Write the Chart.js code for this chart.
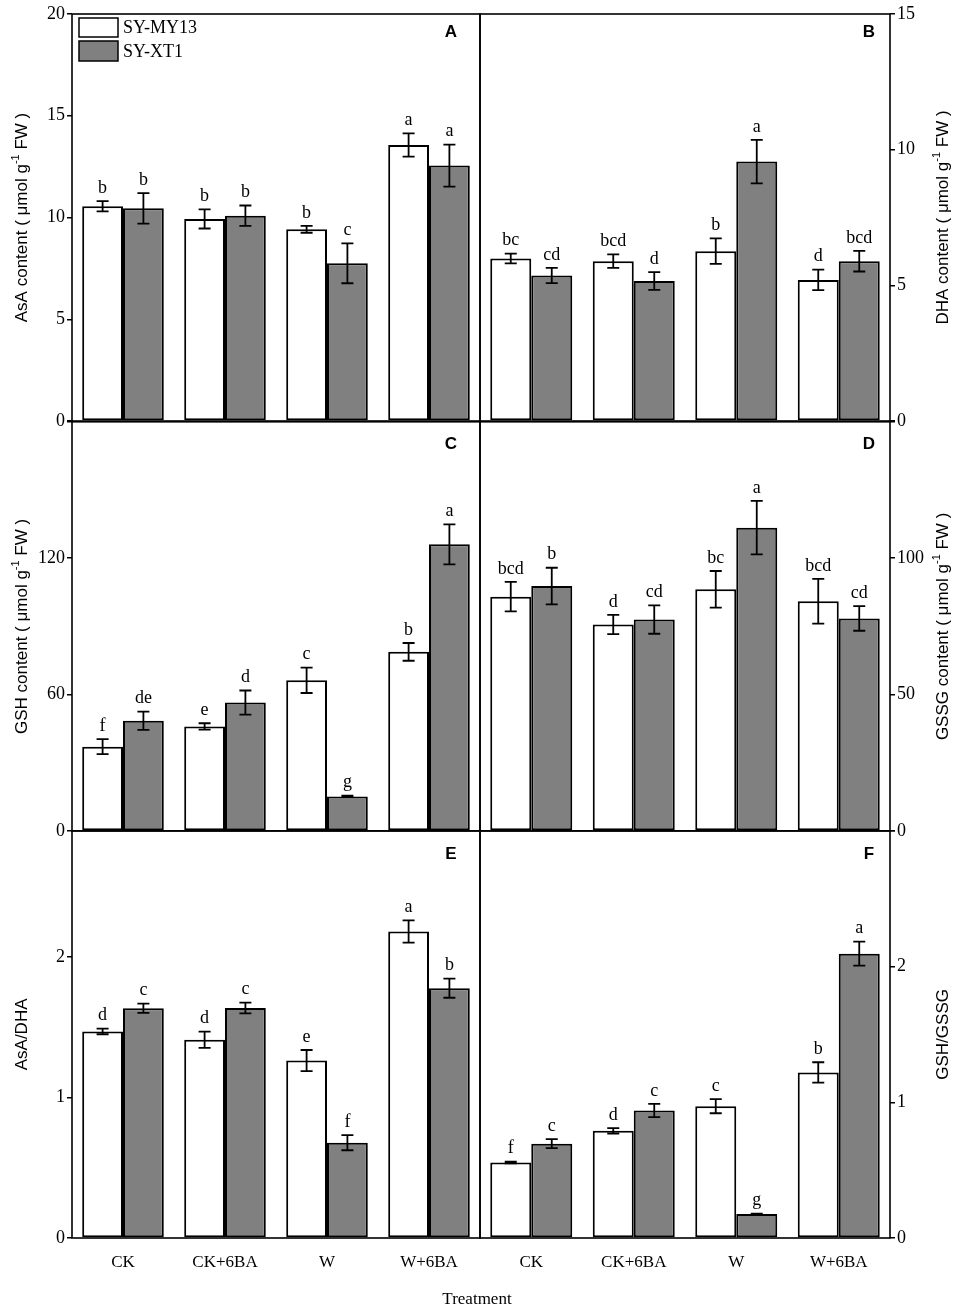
<!DOCTYPE html>
<html>
<head>
<meta charset="utf-8">
<script src="https://cdn.jsdelivr.net/npm/chart.js@4.4.1/dist/chart.umd.min.js"></script>
<style>
  html, body { margin: 0; padding: 0; background: #fff; }
  #wrap { position: relative; width: 957px; height: 1312px; overflow: hidden; }
  canvas { position: absolute; left: 0; }
</style>
</head>
<body>
<div id="wrap">
  <canvas id="cA" width="957" height="440" style="top:0px"></canvas>
  <canvas id="cB" width="957" height="440" style="top:0px"></canvas>
  <canvas id="cC" width="957" height="440" style="top:409px"></canvas>
  <canvas id="cD" width="957" height="440" style="top:409px"></canvas>
  <canvas id="cE" width="957" height="494" style="top:818px"></canvas>
  <canvas id="cF" width="957" height="494" style="top:818px"></canvas>
</div>
<script>
const categories = ['CK', 'CK+6BA', 'W', 'W+6BA'];
const seriesNames = ['SY-MY13', 'SY-XT1'];

// A - AsA content
const asaMY = [10.55, 9.93, 9.42, 13.56];
const asaXT = [10.45, 10.09, 7.75, 12.55];
const asaMYErr = [0.25, 0.47, 0.17, 0.57];
const asaXTErr = [0.75, 0.5, 0.98, 1.03];
const asaMYSig = ['b', 'b', 'b', 'a'];
const asaXTSig = ['b', 'b', 'c', 'a'];

// B - DHA content
const dhaMY = [5.99, 5.89, 6.26, 5.2];
const dhaXT = [5.36, 5.16, 9.56, 5.89];
const dhaMYErr = [0.18, 0.25, 0.47, 0.38];
const dhaXTErr = [0.28, 0.33, 0.8, 0.38];
const dhaMYSig = ['bc', 'bcd', 'b', 'd'];
const dhaXTSig = ['cd', 'd', 'a', 'bcd'];

// C - GSH content
const gshMY = [37.1, 46.0, 66.3, 78.8];
const gshXT = [48.5, 56.5, 15.2, 126.1];
const gshMYErr = [3.3, 1.4, 5.6, 3.9];
const gshXTErr = [4.0, 5.3, 0.3, 8.8];
const gshMYSig = ['f', 'e', 'c', 'b'];
const gshXTSig = ['de', 'd', 'g', 'a'];

// D - GSSG content
const gssgMY = [85.9, 75.7, 88.6, 84.2];
const gssgXT = [89.8, 77.5, 111.2, 77.9];
const gssgMYErr = [5.4, 3.5, 6.7, 8.2];
const gssgXTErr = [6.7, 5.2, 9.8, 4.5];
const gssgMYSig = ['bcd', 'd', 'bc', 'bcd'];
const gssgXTSig = ['b', 'cd', 'a', 'cd'];

// E - AsA/DHA
const asaDhaMY = [1.471, 1.412, 1.264, 2.183];
const asaDhaXT = [1.636, 1.638, 0.679, 1.779];
const asaDhaMYErr = [0.02, 0.058, 0.075, 0.079];
const asaDhaXTErr = [0.033, 0.038, 0.054, 0.068];
const asaDhaMYSig = ['d', 'd', 'e', 'a'];
const asaDhaXTSig = ['c', 'c', 'f', 'b'];

// F - GSH/GSSG
const gshGssgMY = [0.556, 0.79, 0.971, 1.22];
const gshGssgXT = [0.695, 0.939, 0.176, 2.095];
const gshGssgMYErr = [0.006, 0.02, 0.052, 0.075];
const gshGssgXTErr = [0.033, 0.049, 0.004, 0.088];
const gshGssgMYSig = ['f', 'd', 'c', 'b'];
const gshGssgXTSig = ['c', 'c', 'g', 'a'];

const SERIF = '"Liberation Serif", "Times New Roman", serif';
const SANS = '"Liberation Sans", Arial, sans-serif';

// draws frame, error bars, letters, axis title, panel letter, legend
const panelPlugin = {
  id: 'panel',
  afterDatasetsDraw(chart, args, opts) {
    const ctx = chart.ctx;
    const area = chart.chartArea;
    const yScale = chart.scales.y;

    ctx.save();
    // error bars + significance letters
    chart.data.datasets.forEach((ds, di) => {
      const meta = chart.getDatasetMeta(di);
      meta.data.forEach((bar, i) => {
        const v = ds.data[i], e = ds.err[i];
        const yTop = yScale.getPixelForValue(v + e);
        const yBot = yScale.getPixelForValue(v - e);
        ctx.strokeStyle = '#000';
        ctx.lineWidth = 1.8;
        ctx.beginPath();
        ctx.moveTo(bar.x, yTop); ctx.lineTo(bar.x, yBot);
        ctx.moveTo(bar.x - 6, yTop); ctx.lineTo(bar.x + 6, yTop);
        ctx.moveTo(bar.x - 6, yBot); ctx.lineTo(bar.x + 6, yBot);
        ctx.stroke();
        ctx.fillStyle = '#000';
        ctx.font = '18px ' + SERIF;
        ctx.textAlign = 'center';
        ctx.textBaseline = 'bottom';
        ctx.fillText(ds.sig[i], bar.x, yTop - 4);
      });
    });

    // frame
    ctx.strokeStyle = '#000';
    ctx.lineWidth = 1.6;
    ctx.strokeRect(area.left, area.top, area.right - area.left, area.bottom - area.top);

    // panel letter
    ctx.font = 'bold 17px ' + SANS;
    ctx.textAlign = 'center';
    ctx.textBaseline = 'middle';
    ctx.fillText(opts.letter, area.right - opts.letterDx, area.top + opts.letterDy);

    // rotated axis title with optional superscript
    const yMid = (area.top + area.bottom) / 2;
    ctx.translate(opts.titleX, yMid);
    ctx.rotate(-Math.PI / 2);
    const mainFont = '17px ' + SANS, supFont = '11px ' + SANS;
    let total = 0;
    opts.title.forEach(p => {
      ctx.font = p.sup ? supFont : mainFont;
      total += ctx.measureText(p.t).width;
    });
    let x = -total / 2;
    ctx.textAlign = 'left';
    ctx.textBaseline = 'middle';
    opts.title.forEach(p => {
      ctx.font = p.sup ? supFont : mainFont;
      ctx.fillText(p.t, x, p.sup ? -6 : 0);
      x += ctx.measureText(p.t).width;
    });
    ctx.restore();

    // legend (panel A only)
    if (opts.legend) {
      ctx.save();
      const bx = area.left + 7;
      const rows = [{y: area.top + 4, h: 19, fill: '#ffffff'}, {y: area.top + 27, h: 20, fill: '#808080'}];
      rows.forEach((r, k) => {
        ctx.fillStyle = r.fill;
        ctx.fillRect(bx, r.y, 39, r.h);
        ctx.strokeStyle = '#000';
        ctx.lineWidth = 1.5;
        ctx.strokeRect(bx, r.y, 39, r.h);
        ctx.fillStyle = '#000';
        ctx.font = '18px ' + SERIF;
        ctx.textAlign = 'left';
        ctx.textBaseline = 'middle';
        ctx.fillText(chart.data.datasets[k].label, bx + 44, r.y + r.h / 2 + 1);
      });
      ctx.restore();
    }

    // shared x-axis title
    if (opts.treatment) {
      ctx.save();
      ctx.fillStyle = '#000';
      ctx.font = '17px ' + SERIF;
      ctx.textAlign = 'center';
      ctx.textBaseline = 'middle';
      ctx.fillText('Treatment', 477, 482);
      ctx.restore();
    }
  }
};

function makePanel(id, cfg) {
  const left = cfg.side === 'left';
  new Chart(document.getElementById(id), {
    type: 'bar',
    data: {
      labels: categories,
      datasets: [
        { label: seriesNames[0], data: cfg.my, err: cfg.myErr, sig: cfg.mySig,
          backgroundColor: '#ffffff', borderColor: '#000', borderWidth: 2, borderSkipped: false },
        { label: seriesNames[1], data: cfg.xt, err: cfg.xtErr, sig: cfg.xtSig,
          backgroundColor: '#808080', borderColor: '#000', borderWidth: 2, borderSkipped: false }
      ]
    },
    options: {
      responsive: false,
      animation: false,
      events: [],
      layout: { padding: { left: left ? 0 : 480, right: left ? 477 : 0, top: cfg.padTop, bottom: cfg.padBottom } },
      datasets: { bar: { categoryPercentage: 0.8, barPercentage: 1 } },
      scales: {
        x: {
          display: cfg.showX,
          grid: { display: false, drawTicks: false },
          border: { display: false },
          ticks: { color: '#000', font: { family: SERIF, size: 17 }, padding: 14, maxRotation: 0 },
          afterFit: s => { s.height = cfg.showX ? 74 : 0; }
        },
        y: {
          position: left ? 'left' : 'right',
          min: 0,
          max: cfg.max,
          grid: { drawOnChartArea: false, drawTicks: true, tickLength: 5, color: '#000', lineWidth: 1.5 },
          border: { display: false },
          ticks: {
            stepSize: cfg.step,
            includeBounds: false,
            color: '#000',
            font: { family: SERIF, size: 18 },
            padding: 2,
            callback: v => (cfg.hideTop && v === cfg.max) ? '' : v
          },
          afterFit: s => { s.width = left ? 72 : 67; }
        }
      },
      plugins: {
        legend: { display: false },
        tooltip: { enabled: false },
        panel: {
          letter: cfg.letter,
          letterDx: left ? 29 : 21,
          letterDy: cfg.letterDy,
          titleX: left ? 22 : 943,
          title: cfg.title,
          legend: !!cfg.legend,
          treatment: !!cfg.treatment
        }
      }
    },
    plugins: [panelPlugin]
  });
}

const contentTitle = name => [
  { t: name + ' content ( \u03bcmol g' }, { t: '-1', sup: true }, { t: ' FW )' }
];

makePanel('cA', { side: 'left', letter: 'A', letterDy: 18, max: 20, step: 5, padTop: 14, padBottom: 19, showX: false,
  my: asaMY, xt: asaXT, myErr: asaMYErr, xtErr: asaXTErr, mySig: asaMYSig, xtSig: asaXTSig,
  title: contentTitle('AsA'), legend: true });
makePanel('cB', { side: 'right', letter: 'B', letterDy: 18, max: 15, step: 5, padTop: 14, padBottom: 19, showX: false,
  my: dhaMY, xt: dhaXT, myErr: dhaMYErr, xtErr: dhaXTErr, mySig: dhaMYSig, xtSig: dhaXTSig,
  title: contentTitle('DHA') });
makePanel('cC', { side: 'left', letter: 'C', letterDy: 23, max: 180, step: 60, hideTop: true, padTop: 12, padBottom: 18, showX: false,
  my: gshMY, xt: gshXT, myErr: gshMYErr, xtErr: gshXTErr, mySig: gshMYSig, xtSig: gshXTSig,
  title: contentTitle('GSH') });
makePanel('cD', { side: 'right', letter: 'D', letterDy: 23, max: 150, step: 50, hideTop: true, padTop: 12, padBottom: 18, showX: false,
  my: gssgMY, xt: gssgXT, myErr: gssgMYErr, xtErr: gssgXTErr, mySig: gssgMYSig, xtSig: gssgXTSig,
  title: contentTitle('GSSG') });
makePanel('cE', { side: 'left', letter: 'E', letterDy: 24, max: 2.9, step: 1, hideTop: true, padTop: 12, padBottom: 0, showX: true,
  my: asaDhaMY, xt: asaDhaXT, myErr: asaDhaMYErr, xtErr: asaDhaXTErr, mySig: asaDhaMYSig, xtSig: asaDhaXTSig,
  title: [{ t: 'AsA/DHA' }], treatment: true });
makePanel('cF', { side: 'right', letter: 'F', letterDy: 24, max: 3, step: 1, hideTop: true, padTop: 12, padBottom: 0, showX: true,
  my: gshGssgMY, xt: gshGssgXT, myErr: gshGssgMYErr, xtErr: gshGssgXTErr, mySig: gshGssgMYSig, xtSig: gshGssgXTSig,
  title: [{ t: 'GSH/GSSG' }] });
</script>
</body>
</html>
